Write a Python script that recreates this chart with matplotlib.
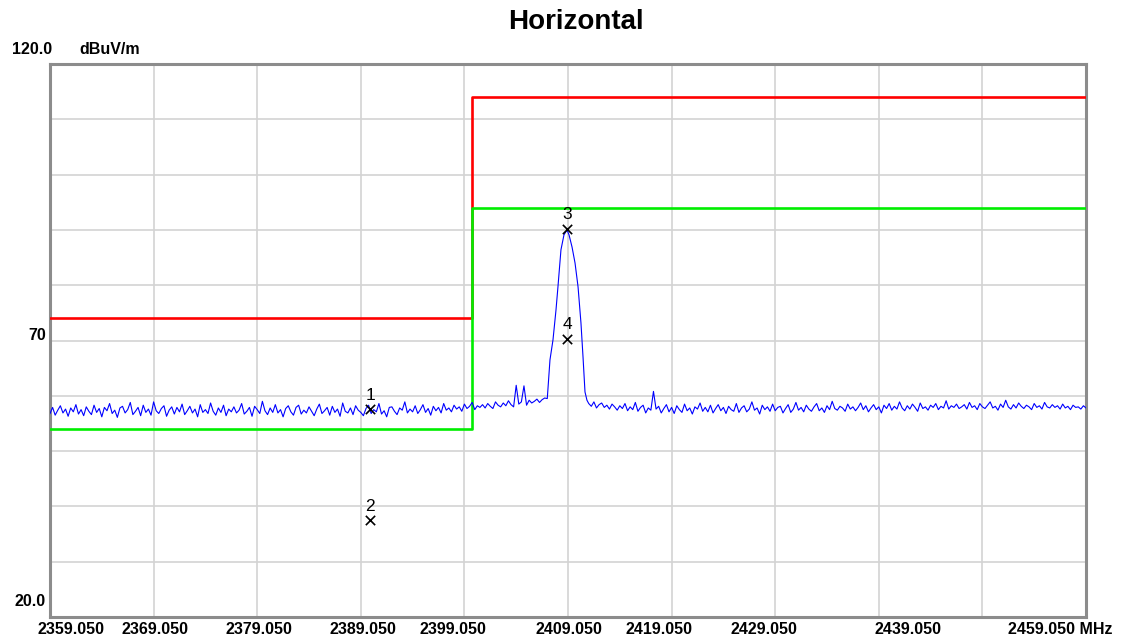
import numpy as np
import matplotlib
matplotlib.use('Agg')
import matplotlib.pyplot as plt
from matplotlib import transforms

# sweep grid (0.25 MHz) for the noise floor either side of the carrier
freq_left = np.linspace(2359.05, 2407.05, 193)
level_left = [
    56.8, 57.9, 56.5, 57.4, 58.2, 56.9, 57.6, 56.3, 57.8, 57.1, 58.4, 56.7,
    57.5, 56.4, 58.0, 57.2, 56.6, 58.3, 57.0, 57.7, 56.2, 57.9, 57.3, 58.6,
    56.8, 57.4, 56.1, 57.8, 58.1, 56.9, 57.5, 58.8, 56.6, 57.2, 57.9, 56.4,
    58.3, 57.0, 57.6, 56.5, 58.9, 57.3, 56.8, 57.7, 58.2, 56.3, 57.4, 58.0,
    56.7, 57.9, 57.1, 58.5, 56.6, 57.3, 58.1, 56.9, 57.6, 56.2, 58.4, 57.0,
    57.5, 56.8, 58.7, 57.2, 56.5, 57.8, 57.0, 58.3, 56.4, 57.6, 57.1, 58.0,
    56.9, 57.4, 58.6, 56.7, 57.2, 57.9, 56.3, 58.1, 57.5, 56.8, 59.0, 57.3,
    56.6, 57.8, 57.0, 58.4, 56.9, 57.5, 56.2, 57.7, 58.2, 57.1, 56.5, 57.9,
    58.3, 56.7, 57.4, 56.9, 58.0, 57.2, 56.4, 57.6, 58.5, 56.8, 57.3, 57.9,
    56.5, 58.1, 57.0, 57.6, 56.3, 58.7, 57.2, 56.9, 57.8, 56.6, 58.2, 57.4,
    57.0, 56.4, 57.7, 58.3, 56.8, 57.5, 57.1, 58.6, 56.7, 57.3, 56.2, 57.9,
    58.0, 57.2, 56.6, 57.8, 57.4, 58.9, 56.9, 57.6, 57.1, 58.2, 56.8, 57.5,
    58.4, 57.0, 57.7, 56.5, 58.1, 57.3, 57.9, 56.9, 58.6, 57.4, 57.8, 57.1,
    58.3, 57.6, 58.0, 57.2, 58.5, 57.7, 58.1, 58.8, 57.5, 58.2, 57.9, 58.4,
    57.8, 58.6, 58.1, 57.7, 58.9, 58.3, 58.0, 58.7, 58.2, 59.1, 58.4, 58.0,
    61.9, 58.5, 58.9, 61.8, 58.3, 59.2, 58.7, 59.0, 59.4, 58.8, 59.3, 59.6,
    59.5,
]

freq_peak = [2407.31, 2407.60, 2407.89, 2408.08, 2408.37, 2408.66, 2408.95,
             2409.15, 2409.44, 2409.73, 2410.02, 2410.30, 2410.50, 2410.69,
             2410.88]
level_peak = [66.5, 70.1, 75.5, 79.7, 86.4, 89.1, 90.0,
              89.1, 86.9, 84.0, 79.7, 73.2, 67.0, 60.7,
              59.2]

freq_right = np.linspace(2411.05, 2459.05, 193)
level_right = [
    58.6, 58.1, 58.9, 57.8, 58.4, 58.7, 57.9, 58.3, 57.6, 58.5, 58.0, 57.4,
    58.2, 57.7, 58.6, 57.3, 58.0, 57.5, 58.8, 57.2, 57.9, 58.3, 56.9, 57.8,
    57.4, 60.8, 57.6, 58.1, 56.9, 57.7, 58.4, 57.1, 57.9, 56.8, 58.2, 57.5,
    57.0, 58.5, 57.3, 57.8, 56.7, 58.0, 57.6, 58.7, 57.2, 57.9, 57.1, 58.3,
    56.9, 57.7, 58.4, 57.3, 57.9, 56.8, 58.1, 57.5, 57.2, 58.6, 57.0, 57.8,
    58.2, 57.1, 57.6, 58.9, 57.4, 57.8, 56.7, 58.3, 57.5, 58.0, 57.2, 58.5,
    57.3, 57.9, 58.1, 56.9, 57.7, 58.4, 57.0, 57.6, 58.8, 57.4, 57.9, 57.1,
    58.3, 57.6, 57.2, 58.0, 58.6, 57.3, 57.8, 57.0, 58.2, 57.5, 59.0, 57.7,
    57.4, 58.1, 57.8, 57.2, 58.5, 57.6, 58.0, 57.3, 57.9, 58.7, 57.5, 58.2,
    57.1, 57.8, 58.4, 57.5, 58.0, 56.9, 58.3, 57.7, 58.6, 57.4, 58.1, 57.6,
    58.9, 57.8, 57.3, 58.2, 57.6, 58.5, 57.9, 57.2, 58.7, 57.7, 58.0, 57.4,
    58.3, 57.9, 58.6, 57.5, 58.1, 57.8, 59.1, 57.6, 58.2, 57.9, 58.5, 57.7,
    58.0, 58.4, 57.6, 58.8, 57.9, 58.2, 57.5, 58.6, 58.0, 57.7, 58.3, 58.9,
    57.8, 58.1, 57.4, 58.5, 57.9, 59.2, 58.0, 57.6, 58.4, 57.8, 58.7, 58.1,
    57.7, 58.3, 58.0, 57.5, 58.6, 57.9, 58.2, 57.6, 58.8, 58.0, 57.8, 58.4,
    57.9, 58.2, 57.6, 58.5, 57.8, 58.1, 57.5, 58.3, 57.9, 58.0, 57.6, 58.2,
    57.8,
]

# limit lines (peak = red, average = green)
limit_freq = [2359.05, 2399.75, 2399.75, 2459.05]
peak_limit = [74, 74, 114, 114]
avg_limit = [54, 54, 94, 94]

# markers
marker_ids = ['1', '2', '3', '4']
marker_freq = [2389.95, 2389.95, 2408.95, 2408.95]
marker_level = [57.6, 37.5, 90.2, 70.3]

# x labels as printed by the receiver software
xlabel_text = ['2359.050', '2369.050', '2379.050', '2389.050', '2399.050',
               '2409.050', '2419.050', '2429.050', '2439.050', '2459.050 MHz']
xlabel_pos = [2361.1, 2369.2, 2379.2, 2389.3, 2397.9,
              2409.15, 2417.8, 2428.0, 2441.9, 2455.0]

W, H = 1126, 643
fig = plt.figure(figsize=(W / 100, H / 100), dpi=100)
ax = fig.add_axes([50 / W, (H - 617) / H, 1036 / W, 553 / H])

trace_f = np.concatenate([freq_left, freq_peak, freq_right])
trace_l = np.concatenate([level_left, level_peak, level_right])

ax.plot(limit_freq, peak_limit, color='#ff0000', lw=1.9, zorder=3)
ax.plot(limit_freq, avg_limit, color='#00ee00', lw=1.9, zorder=3)
ax.plot(trace_f, trace_l, color='#0000ff', lw=0.8, zorder=4)

ax.scatter(marker_freq, marker_level, marker='x', s=45, color='black',
           linewidths=1.2, zorder=5)
for mid, f, l in zip(marker_ids, marker_freq, marker_level):
    ax.annotate(mid, (f, l), xytext=(0, 10), textcoords='offset points',
                ha='center', va='center', fontsize=12.5, color='black',
                family='Liberation Sans', zorder=6)

ax.set_xlim(2359.05, 2459.05)
ax.set_ylim(20, 120)
ax.set_xticks(np.arange(2359.05, 2459.1, 10))
ax.set_yticks(np.arange(20, 121, 10))
ax.tick_params(length=0, labelbottom=False, labelleft=False)
ax.grid(True, color='#d3d3d3', lw=1.2, zorder=0)
ax.set_axisbelow(True)
for s in ax.spines.values():
    s.set_color('#8c8c8c')
    s.set_linewidth(2.2)

tick_font = dict(family='Liberation Sans', fontweight='bold', fontsize=11.5,
                 color='black')
trans = transforms.blended_transform_factory(ax.transData, ax.transAxes)
for txt, pos in zip(xlabel_text, xlabel_pos):
    if txt.endswith('MHz'):
        ax.text(pos - 3.5, -13 / 553, txt, transform=trans, ha='left',
                va='center', **tick_font)
    else:
        ax.text(pos, -13 / 553, txt, transform=trans, ha='center',
                va='center', **tick_font)

fig.text(12 / W, 1 - 50 / H, '120.0', ha='left', va='center', **tick_font)
fig.text(79 / W, 1 - 50 / H, 'dBuV/m', ha='left', va='center', **tick_font)
fig.text(46 / W, 1 - 336 / H, '70', ha='right', va='center', **tick_font)
fig.text(46 / W, 1 - 601 / H, '20.0', ha='right', va='center', **tick_font)

fig.text(576 / W, 1 - 22 / H, 'Horizontal', ha='center', va='center',
         family='Liberation Sans', fontweight='bold', fontsize=20)

fig.savefig('out.png', dpi=100)
